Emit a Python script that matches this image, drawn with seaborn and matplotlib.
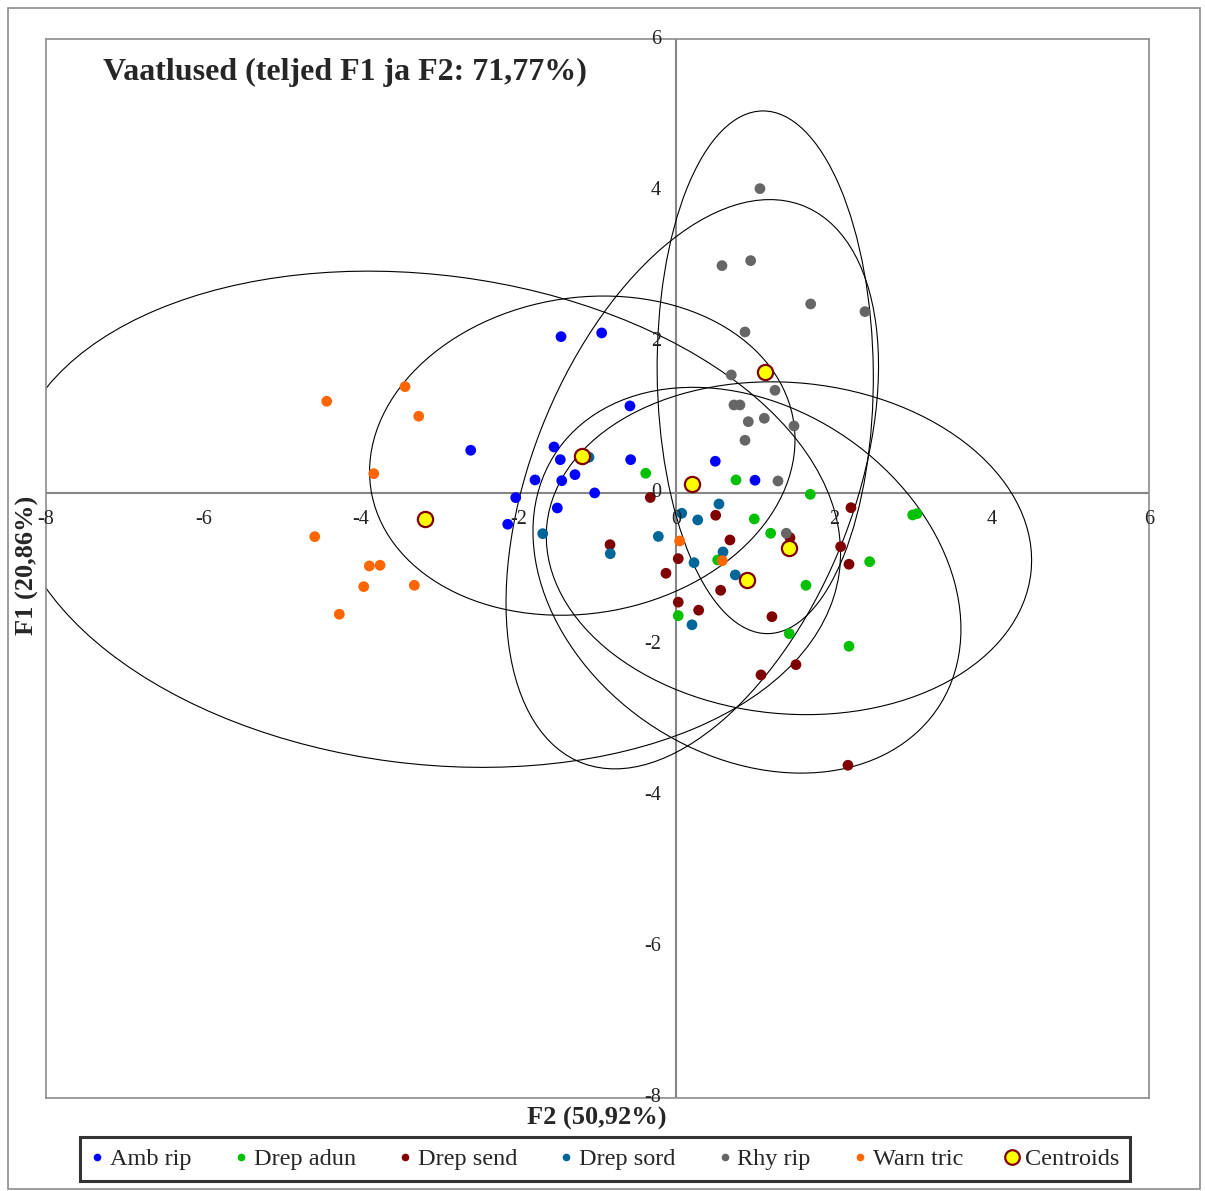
import numpy as np
import pandas as pd
import matplotlib
matplotlib.use("Agg")
import matplotlib.pyplot as plt
from matplotlib.patches import Ellipse, Rectangle
from matplotlib.lines import Line2D
import seaborn as sns

sns.set_style("white")
plt.rcParams['font.family'] = ['Liberation Serif', 'DejaVu Serif']

# ---------------- data ----------------
groups = ["Amb rip", "Drep adun", "Drep send", "Drep sord", "Rhy rip", "Warn tric"]
colors = ["#0000FF", "#00C000", "#800000", "#006699", "#666666", "#FF6600"]

amb_x = [-1.463, -0.947, -0.588, -2.609, -1.552, -1.472, -1.793, -1.286, -1.454, -2.038, -1.036, -2.140, -1.510, -0.579, 0.495, 0.999]
amb_y = [2.065, 2.114, 1.149, 0.563, 0.607, 0.439, 0.171, 0.241, 0.161, -0.063, -0.001, -0.415, -0.200, 0.439, 0.418, 0.167]

adun_x = [-0.388, 0.758, 1.701, 0.990, 1.198, 0.525, 0.025, 1.646, 1.434, 2.192, 2.454, 3.000, 3.055]
adun_y = [0.259, 0.171, -0.019, -0.345, -0.534, -0.887, -1.623, -1.222, -1.861, -2.028, -0.910, -0.292, -0.275]

send_x = [-0.330, 0.500, 0.681, -0.841, 0.025, -0.131, 0.563, 0.025, 0.284, 1.214, 1.443, 2.217, 2.086, 2.192, 1.075, 1.519, 2.179]
send_y = [-0.061, -0.296, -0.623, -0.685, -0.870, -1.063, -1.288, -1.445, -1.551, -1.637, -0.592, -0.196, -0.711, -0.944, -2.407, -2.271, -3.601]

sord_x = [-1.108, -1.695, -0.838, -0.228, 0.069, 0.272, 0.542, 0.593, 0.225, 0.749, 0.199]
sord_y = [0.471, -0.539, -0.804, -0.576, -0.270, -0.358, -0.147, -0.781, -0.923, -1.085, -1.744]

rhy_x = [1.062, 0.580, 0.944, 1.706, 2.395, 0.872, 0.698, 1.253, 0.732, 0.808, 1.117, 0.914, 1.494, 0.872, 1.291, 1.396]
rhy_y = [4.022, 3.004, 3.070, 2.497, 2.396, 2.127, 1.559, 1.356, 1.162, 1.162, 0.986, 0.941, 0.884, 0.695, 0.157, -0.534]

warn_x = [-3.443, -4.437, -3.269, -3.840, -4.589, -3.896, -3.760, -3.967, -3.325, -4.277, 0.043, 0.584]
warn_y = [1.404, 1.211, 1.013, 0.254, -0.579, -0.966, -0.957, -1.240, -1.222, -1.605, -0.636, -0.896]

# centroids, same order as groups
cent_x = [-1.193, 1.430, 0.897, 0.203, 1.129, -3.185]
cent_y = [0.492, -0.732, -1.155, 0.114, 1.594, -0.349]

# confidence ellipses (half extents along x/y and correlation), same order as groups
ell_sx = [2.70, 3.08, 2.716, 2.364, 1.372, 5.27]
ell_sy = [2.11, 2.20, 2.55, 3.763, 3.455, 3.28]
ell_rho = [0.10, -0.072, -0.253, 0.416, -0.02, -0.137]

ticks = [-8, -6, -4, -2, 0, 2, 4, 6]

title = "Vaatlused (teljed F1 ja F2: 71,77%)"
xlabel = "F2 (50,92%)"
ylabel = "F1 (20,86%)"

# ---------------- build table ----------------
xs = [amb_x, adun_x, send_x, sord_x, rhy_x, warn_x]
ys = [amb_y, adun_y, send_y, sord_y, rhy_y, warn_y]
df = pd.concat([pd.DataFrame({"F2": x, "F1": y, "group": g}) for g, x, y in zip(groups, xs, ys)],
               ignore_index=True)
cent_df = pd.DataFrame({"F2": cent_x, "F1": cent_y, "group": groups})

# ---------------- figure ----------------
W, H = 1205, 1191
fig = plt.figure(figsize=(W / 100, H / 100), dpi=100)
ax = fig.add_axes([46 / W, 1 - 1098 / H, 1103 / W, 1059 / H])
ax.set_xlim(-8, 6)
ax.set_ylim(-8, 6)
ax.set_xticks([])
ax.set_yticks([])
for s in ax.spines.values():
    s.set_color("#8c8c8c")
    s.set_linewidth(1.2)

ax.axhline(0, color="#868686", lw=1.5, zorder=1)
ax.axvline(0, color="#868686", lw=1.5, zorder=1)

# ellipses
for cx, cy, sx, sy, r in zip(cent_x, cent_y, ell_sx, ell_sy, ell_rho):
    cov = np.array([[sx * sx, r * sx * sy], [r * sx * sy, sy * sy]])
    vals, vecs = np.linalg.eigh(cov)
    ang = np.degrees(np.arctan2(vecs[1, 1], vecs[0, 1]))
    e = Ellipse((cx, cy), 2 * np.sqrt(vals[1]), 2 * np.sqrt(vals[0]), angle=ang,
                fill=False, edgecolor="black", lw=0.8, zorder=2)
    ax.add_patch(e)

sns.scatterplot(data=df, x="F2", y="F1", hue="group", hue_order=groups,
                palette=dict(zip(groups, colors)), s=60, linewidth=0,
                legend=False, ax=ax, zorder=3)
sns.scatterplot(data=cent_df, x="F2", y="F1", color="#FFFF00", edgecolor="#800000",
                linewidth=1.6, s=120, legend=False, ax=ax, zorder=4)
ax.set_xlabel("")
ax.set_ylabel("")

# tick labels next to zero lines
for t in ticks:
    ax.annotate(str(t), xy=(t, 0), xytext=(0, -19.5), textcoords="offset points",
                ha="center", va="center", fontsize=14.5, color="#222222",
                annotation_clip=False, zorder=5)
    ax.annotate(str(t), xy=(0, t), xytext=(-11, 0), textcoords="offset points",
                ha="right", va="center", fontsize=14.5, color="#222222",
                annotation_clip=False, zorder=5)

fig.text(103 / W, 1 - 72 / H, title, ha="left", va="center",
         fontsize=23, fontweight="bold")
fig.text(597 / W, 1 - 1118 / H, xlabel, ha="center", va="center",
         fontsize=19, fontweight="bold")
fig.text(27 / W, 1 - 565 / H, ylabel, ha="center", va="center", rotation=90,
         fontsize=19, fontweight="bold")

# outer frame
fig.add_artist(Rectangle((8 / W, 1 - 1189 / H), (1200 - 8) / W, (1189 - 8) / H,
                         transform=fig.transFigure, fill=False,
                         edgecolor="#8c8c8c", lw=1.2))

# legend
handles = [Line2D([], [], ls="none", marker="o", markersize=5.5, markerfacecolor=c,
                  markeredgewidth=0) for c in colors]
handles.append(Line2D([], [], ls="none", marker="o", markersize=10.5,
                      markerfacecolor="#FFFF00", markeredgecolor="#800000",
                      markeredgewidth=1.6))
labels = groups + ["Centroids"]
leg = fig.legend(handles, labels, loc="center", bbox_to_anchor=(605 / W, 1 - 1159 / H),
                 ncol=7, frameon=True, fancybox=False, edgecolor="black",
                 fontsize=17.5, handlelength=0.55, handletextpad=0.25,
                 columnspacing=1.75, borderpad=0.45, borderaxespad=0)
leg.get_frame().set_linewidth(2.2)

fig.savefig("out.png", dpi=100)
